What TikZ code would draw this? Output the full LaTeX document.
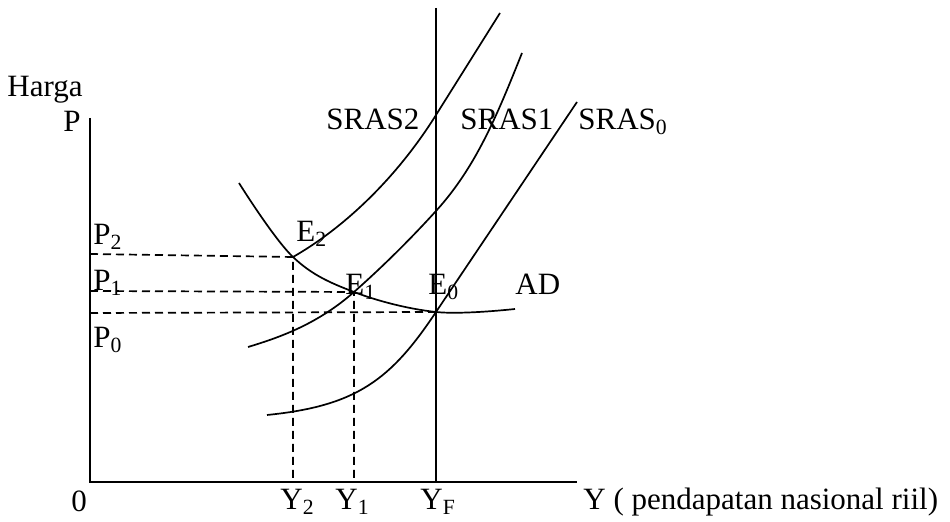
\documentclass[tikz,border=0pt]{standalone}
\usepackage{fontspec}
\setmainfont{Liberation Serif}
\begin{document}
\begin{tikzpicture}[x=0.5pt,y=-0.5pt,
  axis/.style={line width=0.85pt},
  curve/.style={line width=0.85pt},
  guide/.style={line width=0.85pt, dash pattern=on 4pt off 2.5pt},
  lbl/.style={inner sep=0pt, anchor=base west, font=\fontsize{15.5}{18}\selectfont}]
\useasboundingbox (0,0) rectangle (950,522);
% axes
\coordinate (O) at (90,482);
\coordinate (Ptop) at (90,118);
\coordinate (Xend) at (577,482);
\coordinate (YFtop) at (436,8);
\coordinate (YFbot) at (436,482);
\draw[axis] (Ptop) -- (O) -- (Xend);
\draw[axis] (YFtop) -- (YFbot);
% equilibrium points
\coordinate (E2) at (293,257);
\coordinate (E1) at (354,292);
\coordinate (E0) at (436,312);
\coordinate (Y2) at (293,482);
\coordinate (Y1) at (354,482);
\coordinate (P2) at (90,254);
\coordinate (P1) at (90,291);
\coordinate (P0) at (90,313);
% guides
\draw[guide] (P2) -- (E2) -- (Y2);
\draw[guide] (P1) -- (E1) -- (Y1);
\draw[guide] (P0) -- (E0);
% AD
\draw[curve] plot[smooth, tension=0.6] coordinates {(239,183) (E2) (E1) (E0) (515,309)};
% SRAS2
\draw[curve] (E2) .. controls (343,228.5) and (396,179) .. (436,115) -- (500,13);
% SRAS1
\draw[curve] (248,347) .. controls (283,336.5) and (319,322.8) .. (E1)
  .. controls (381,268.2) and (409,240.7) .. (436,211)
  .. controls (476,167) and (497,115.5) .. (522,53);
% SRAS0
\draw[curve] (267,415) .. controls (357,406) and (391,379.5) .. (E0) -- (577,102);
% labels
\node[lbl] (harga) at (7,97) {Harga};
\node[lbl] (plab) at (63,132) {P};
\node[lbl] (p2) at (93,245) {P\textsubscript{2}};
\node[lbl] (p1) at (93,291) {P\textsubscript{1}};
\node[lbl] (p0) at (93,348) {P\textsubscript{0}};
\node[lbl] (s2) at (326,130) {SRAS2};
\node[lbl] (s1) at (460,130) {SRAS1};
\node[lbl] (s0) at (578,130) {SRAS\textsubscript{0}};
\node[lbl] (e2) at (296,242) {E\textsubscript{2}};
\node[lbl] (e1) at (345,295) {E\textsubscript{1}};
\node[lbl] (e0) at (428,295) {E\textsubscript{0}};
\node[lbl] (ad) at (515,295) {AD};
\node[lbl] (zero) at (71,512) {0};
\node[lbl] (y2) at (280,510) {Y\textsubscript{2}};
\node[lbl] (y1) at (335,510) {Y\textsubscript{1}};
\node[lbl] (yf) at (420,510) {Y\textsubscript{F}};
\node[lbl] (ylab) at (583,510) {Y ( pendapatan nasional riil)};
\end{tikzpicture}
\end{document}
